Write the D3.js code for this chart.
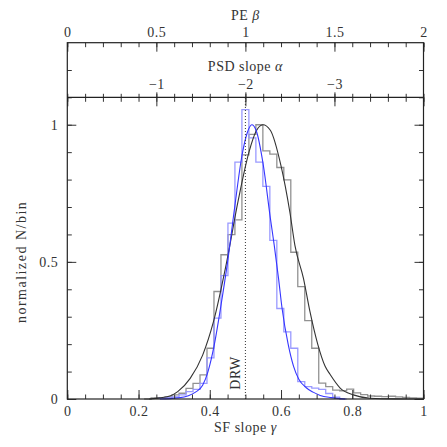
<!DOCTYPE html>
<html>
<head>
<meta charset="utf-8">
<script src="https://cdn.jsdelivr.net/npm/d3@7"></script>
<style>
  body { margin: 0; background: #fff; }
  text { font-family: "Liberation Serif", "DejaVu Serif", serif; fill: #333; letter-spacing: 0.5px; }
</style>
</head>
<body>
<svg id="chart" width="447" height="447"></svg>
<script>
// histogram bins: [0,1] split into 51 bins, counts normalised to the gray peak
var binWidth = 1 / 51;

var grayFirstBin = 11;
var grayCounts = [0, 0.004, 0.005, 0.008, 0.015, 0.021, 0.039, 0.057, 0.088, 0.185,
  0.392, 0.526, 0.599, 0.653, 0.89, 0.965, 1.0, 0.905, 0.893, 0.844,
  0.799, 0.535, 0.41, 0.286, 0.185, 0.058, 0.045, 0.032, 0.03, 0.036,
  0.022, 0.016, 0.011, 0.01, 0.009, 0.01, 0.008, 0.006, 0.004, 0.003];

var blueFirstBin = 13;
var blueCounts = [0.003, 0.005, 0.008, 0.015, 0.027, 0.035, 0.057, 0.15, 0.295, 0.45,
  0.641, 0.864, 1.055, 0.952, 0.864, 0.775, 0.578, 0.33, 0.245, 0.185,
  0.063, 0.045, 0.04, 0.035, 0.02, 0.007, 0];

// fitted curves
var blackCurveX = [0.23, 0.26, 0.29, 0.31, 0.345, 0.38, 0.41, 0.4475, 0.48, 0.51, 0.53, 0.549,
  0.57, 0.60, 0.625, 0.639, 0.663, 0.681, 0.703, 0.7235, 0.7375, 0.766, 0.803, 0.85, 0.92, 1.0];
var blackCurveY = [0, 0.004, 0.012, 0.027, 0.075, 0.16, 0.28, 0.5, 0.725, 0.9, 0.976, 1.0,
  0.98, 0.85, 0.68, 0.56, 0.44, 0.32, 0.2, 0.12, 0.09, 0.04, 0.015, 0.003, 0.0005, 0];

var blueCurveX = [0.26, 0.31, 0.34, 0.36, 0.38, 0.395, 0.413, 0.43, 0.45, 0.47, 0.49, 0.505, 0.518,
  0.53, 0.55, 0.57, 0.581, 0.593, 0.603, 0.62, 0.635, 0.65, 0.67, 0.69, 0.71, 0.74, 0.78];
var blueCurveY = [0, 0.004, 0.012, 0.025, 0.05, 0.1, 0.2, 0.33, 0.5, 0.7, 0.885, 0.97, 1.0,
  0.98, 0.855, 0.66, 0.56, 0.44, 0.33, 0.2, 0.12, 0.072, 0.042, 0.025, 0.013, 0.005, 0];

// axes
var gammaTicks = [0, 0.2, 0.4, 0.6, 0.8, 1];
var betaTicks = [0, 0.5, 1, 1.5, 2];
var alphaTickBeta = [0.5, 1, 1.5];
var alphaTickLabels = ["\u22121", "\u22122", "\u22123"];
var yTicks = [0, 0.5, 1];
var drwGamma = 0.5;

(function () {
  var svg = d3.select("#chart");
  var fs = "14px";
  var pl = 67.3, pr = 423.5, pt = 97.3, pb = 399, stripTop = 42.7;

  var x = d3.scaleLinear().domain([0, 1]).range([pl, pr]);
  var xb = d3.scaleLinear().domain([0, 2]).range([pl, pr]);
  var y = d3.scaleLinear().domain([0, 1.1]).range([pb, pt]);
  var ys = d3.scaleLinear().domain([0, 1]).range([pt, stripTop]);

  function range(a, b, s) { return d3.range(a, b + s / 2, s); }

  function style(g) {
    g.select(".domain").remove();
    g.selectAll(".tick line").attr("stroke", "#333").attr("stroke-width", 1);
    g.selectAll(".tick text").attr("fill", "#333")
      .style("font-family", '"Liberation Serif", serif').style("font-size", fs);
  }

  // histograms
  function stepPoints(first, counts) {
    var pts = counts.map(function (c, i) { return [(first + i) * binWidth, c]; });
    pts.push([(first + counts.length) * binWidth, counts[counts.length - 1]]);
    return pts;
  }
  var step = d3.line().x(function (d) { return x(d[0]); }).y(function (d) { return y(d[1]); })
    .curve(d3.curveStepAfter);

  svg.append("path").attr("d", step(stepPoints(grayFirstBin, grayCounts)))
    .attr("fill", "none").attr("stroke", "#929292").attr("stroke-width", 1.3);
  svg.append("path").attr("d", step(stepPoints(blueFirstBin, blueCounts)))
    .attr("fill", "none").attr("stroke", "#9a9aff").attr("stroke-width", 1.3);

  // curves
  var smooth = d3.line().x(function (d) { return x(d[0]); }).y(function (d) { return y(d[1]); })
    .curve(d3.curveMonotoneX);
  svg.append("path").attr("d", smooth(d3.zip(blackCurveX, blackCurveY)))
    .attr("fill", "none").attr("stroke", "#333").attr("stroke-width", 1.1);
  svg.append("path").attr("d", smooth(d3.zip(blueCurveX, blueCurveY)))
    .attr("fill", "none").attr("stroke", "#3535ff").attr("stroke-width", 1.1);

  // DRW line
  svg.append("line").attr("x1", x(drwGamma)).attr("x2", x(drwGamma))
    .attr("y1", y(0)).attr("y2", pt)
    .attr("stroke", "#333").attr("stroke-width", 1).attr("stroke-dasharray", "1,2");
  svg.append("text").attr("transform", "translate(" + (x(drwGamma) - 5) + ",373) rotate(-90)")
    .attr("text-anchor", "middle").style("font-size", fs).text("DRW");

  // bottom axis
  svg.append("g").attr("transform", "translate(0," + pb + ")")
    .call(d3.axisBottom(x).tickValues(range(0, 1, 0.05)).tickSize(-4.5).tickFormat(""))
    .call(style);
  svg.append("g").attr("transform", "translate(0," + pb + ")")
    .call(d3.axisBottom(x).tickValues(gammaTicks).tickSize(-9).tickPadding(7).tickFormat(String))
    .call(style);

  // left / right axes
  svg.append("g").attr("transform", "translate(" + pl + ",0)")
    .call(d3.axisLeft(y).tickValues(range(0, 1.1, 0.1)).tickSize(-4.5).tickFormat(""))
    .call(style);
  svg.append("g").attr("transform", "translate(" + pl + ",0)")
    .call(d3.axisLeft(y).tickValues(yTicks).tickSize(-9).tickPadding(9).tickFormat(String))
    .call(style);
  svg.append("g").attr("transform", "translate(" + pr + ",0)")
    .call(d3.axisRight(y).tickValues(range(0, 1.1, 0.1)).tickSize(-4.5).tickFormat(""))
    .call(style);
  svg.append("g").attr("transform", "translate(" + pr + ",0)")
    .call(d3.axisRight(y).tickValues(yTicks).tickSize(-9).tickFormat(""))
    .call(style);

  // main plot top ticks
  svg.append("g").attr("transform", "translate(0," + pt + ")")
    .call(d3.axisTop(xb).tickValues(range(0, 2, 0.1)).tickSize(-4.5).tickFormat(""))
    .call(style);
  svg.append("g").attr("transform", "translate(0," + pt + ")")
    .call(d3.axisTop(xb).tickValues(betaTicks).tickSize(-9).tickFormat(""))
    .call(style);

  // strip: PSD slope alpha ticks on its bottom edge
  svg.append("g").attr("transform", "translate(0," + pt + ")")
    .call(d3.axisTop(xb).tickValues(range(0, 2, 0.1)).tickSize(3.5).tickFormat(""))
    .call(style);
  svg.append("g").attr("transform", "translate(0," + pt + ")")
    .call(d3.axisTop(xb).tickValues(alphaTickBeta).tickSize(5).tickPadding(3)
      .tickFormat(function (d, i) { return alphaTickLabels[i]; }))
    .call(style);

  // strip top: PE beta axis
  svg.append("g").attr("transform", "translate(0," + stripTop + ")")
    .call(d3.axisTop(xb).tickValues(range(0, 2, 0.1)).tickSize(-4.5).tickFormat(""))
    .call(style);
  svg.append("g").attr("transform", "translate(0," + stripTop + ")")
    .call(d3.axisTop(xb).tickValues(betaTicks).tickSize(-9).tickPadding(6).tickFormat(String))
    .call(style);

  // strip side ticks
  svg.append("g").attr("transform", "translate(" + pl + ",0)")
    .call(d3.axisLeft(ys).tickValues([0.5]).tickSize(-4.5).tickFormat(""))
    .call(style);
  svg.append("g").attr("transform", "translate(" + pr + ",0)")
    .call(d3.axisRight(ys).tickValues([0.5]).tickSize(-4.5).tickFormat(""))
    .call(style);

  // frames
  svg.append("rect").attr("x", pl).attr("y", stripTop).attr("width", pr - pl)
    .attr("height", pb - stripTop).attr("fill", "none").attr("stroke", "#222").attr("stroke-width", 1.2);
  svg.append("line").attr("x1", pl).attr("x2", pr).attr("y1", pt).attr("y2", pt)
    .attr("stroke", "#222").attr("stroke-width", 1.2);

  // titles
  var t1 = svg.append("text").attr("x", x(0.5)).attr("y", 20).attr("text-anchor", "middle").style("font-size", fs);
  t1.append("tspan").text("PE ");
  t1.append("tspan").style("font-style", "italic").text("\u03B2");

  var t2 = svg.append("text").attr("x", x(0.5)).attr("y", 71).attr("text-anchor", "middle").style("font-size", fs);
  t2.append("tspan").text("PSD slope ");
  t2.append("tspan").style("font-style", "italic").text("\u03B1");

  var t3 = svg.append("text").attr("x", x(0.5)).attr("y", 432).attr("text-anchor", "middle").style("font-size", fs);
  t3.append("tspan").text("SF slope ");
  t3.append("tspan").style("font-style", "italic").text("\u03B3");

  svg.append("text").attr("transform", "translate(26," + y(0.5) + ") rotate(-90)")
    .attr("text-anchor", "middle").style("font-size", fs).style("letter-spacing", "1.5px")
    .text("normalized N/bin");
})();
</script>
</body>
</html>
